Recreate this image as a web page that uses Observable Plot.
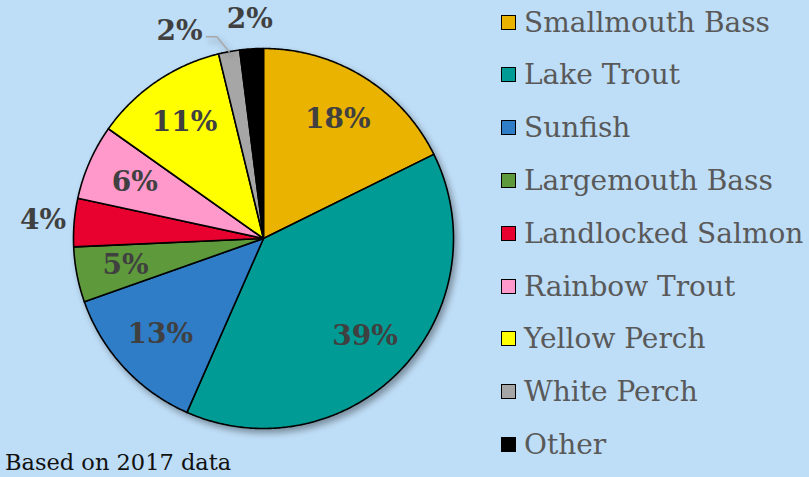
<!DOCTYPE html>
<html>
<head>
<meta charset="utf-8">
<script src="https://cdn.jsdelivr.net/npm/d3@7"></script>
<script src="https://cdn.jsdelivr.net/npm/@observablehq/plot@0.6"></script>
<style>
  html, body { margin: 0; padding: 0; background: #BEDDF6; }
  #wrap { position: relative; width: 809px; height: 477px; overflow: hidden; background: #BEDDF6; }
  #chart { position: absolute; left: 0; top: 0; }
  #legend { position: absolute; left: 501px; top: 0; font-family: "DejaVu Serif", serif; font-size: 28px; color: #595959; }
  .item { position: absolute; left: 0; height: 40px; display: flex; align-items: center; white-space: nowrap; }
  .sw { width: 13px; height: 13px; border: 1.5px solid #000; margin-right: 8px; flex: none; }
  #caption { position: absolute; left: 5px; top: 449px; font-family: "DejaVu Serif", serif; font-size: 22.5px; color: #111; white-space: nowrap; }
  #chart svg g[aria-label="line"] { filter: drop-shadow(3px 4px 3px rgba(0,0,0,0.35)); }
</style>
</head>
<body>
<div id="wrap">
  <div id="chart"></div>
  <div id="legend"></div>
  <div id="caption"></div>
</div>
<script>
const categories = ["Smallmouth Bass", "Lake Trout", "Sunfish", "Largemouth Bass", "Landlocked Salmon", "Rainbow Trout", "Yellow Perch", "White Perch", "Other"];
const shares = [17.7, 38.9, 13.0, 4.7, 4.1, 6.4, 11.4, 1.8, 2.0];
const colors = ["#EAB300", "#009B95", "#2F7CC7", "#5E9A3B", "#E8002F", "#FF99CC", "#FFFF00", "#A6A6A6", "#000000"];
const captionText = "Based on 2017 data";

const W = 809, H = 477, cx = 263, cy = 238, R = 190;
const total = d3.sum(shares);

// Build slice polygons (unit circle, clockwise from 12 o'clock)
const slicePts = [];
const labels = [];
let acc = 0;
categories.forEach((cat, i) => {
  const a0 = acc / total * 2 * Math.PI;
  acc += shares[i];
  const a1 = acc / total * 2 * Math.PI;
  slicePts.push({cat, x: 0, y: 0});
  const n = Math.max(2, Math.ceil((a1 - a0) / (Math.PI / 360)));
  for (let k = 0; k <= n; k++) {
    const a = a0 + (a1 - a0) * k / n;
    slicePts.push({cat, x: Math.sin(a), y: Math.cos(a)});
  }
  const mid = (a0 + a1) / 2;
  const pct = Math.round(shares[i] / total * 100) + "%";
  labels.push({cat, mid, pct, share: shares[i]});
});

const insideLabels = [], outsideLabels = [], leaders = [];
labels.forEach((l, i) => {
  if (l.share >= 4.5) {
    insideLabels.push({x: 0.74 * Math.sin(l.mid), y: 0.74 * Math.cos(l.mid), text: l.pct});
  } else if (l.cat === "White Perch") {
    // pulled aside with a leader line
    const e = {x: Math.sin(l.mid), y: Math.cos(l.mid)};
    const b = {x: 1.09 * Math.sin(l.mid - 0.045), y: 1.09 * Math.cos(l.mid - 0.045)};
    const c = {x: b.x - 0.055, y: b.y};
    leaders.push({id: 0, ...e}, {id: 0, ...b}, {id: 0, ...c});
    outsideLabels.push({x: c.x - 0.02, y: c.y + 0.03, text: l.pct, anchor: "end"});
  } else {
    const r = l.cat === "Other" ? 1.155 : 1.165;
    outsideLabels.push({x: r * Math.sin(l.mid), y: r * Math.cos(l.mid), text: l.pct, anchor: "middle"});
  }
});

const font = "DejaVu Serif";
const fs = 28;
const chart = Plot.plot({
  width: W,
  height: H,
  margin: 0,
  style: {background: "transparent", overflow: "visible"},
  x: {domain: [-cx / R, (W - cx) / R], axis: null},
  y: {domain: [-(H - cy) / R, cy / R], axis: null},
  color: {domain: categories, range: colors},
  marks: [
    Plot.line(slicePts, {x: "x", y: "y", z: "cat", fill: "cat", stroke: "#000", strokeWidth: 1.6, curve: "linear-closed", strokeLinejoin: "round"}),
    Plot.line(leaders, {x: "x", y: "y", z: "id", stroke: "#A6A6A6", strokeWidth: 1.5}),
    Plot.text(insideLabels, {x: "x", y: "y", text: "text", fontFamily: font, fontWeight: "bold", fontSize: fs, fill: "#404040"}),
    Plot.text(outsideLabels.filter(d => d.anchor === "middle"), {x: "x", y: "y", text: "text", fontFamily: font, fontWeight: "bold", fontSize: fs, fill: "#404040"}),
    Plot.text(outsideLabels.filter(d => d.anchor === "end"), {x: "x", y: "y", text: "text", textAnchor: "end", fontFamily: font, fontWeight: "bold", fontSize: fs, fill: "#404040"})
  ]
});
document.getElementById("chart").appendChild(chart);

// Legend
const legend = document.getElementById("legend");
categories.forEach((c, i) => {
  const it = document.createElement("div");
  it.className = "item";
  it.style.top = (2 + i * 52.8) + "px";
  const sw = document.createElement("span");
  sw.className = "sw";
  sw.style.background = colors[i];
  const tx = document.createElement("span");
  tx.textContent = c;
  it.appendChild(sw);
  it.appendChild(tx);
  legend.appendChild(it);
});
document.getElementById("caption").textContent = captionText;
</script>
</body>
</html>
